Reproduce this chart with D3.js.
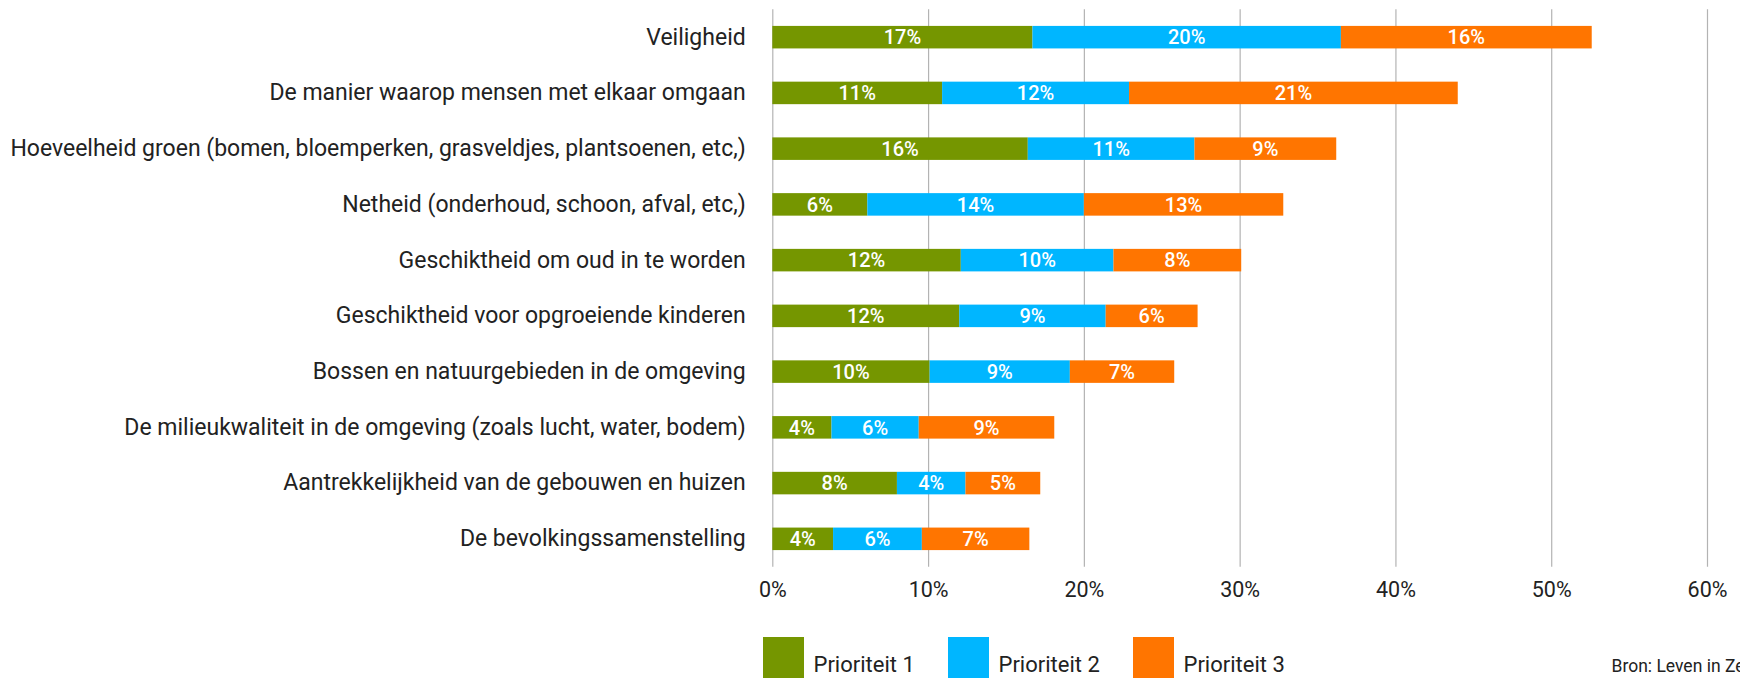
<!DOCTYPE html>
<html><head><meta charset="utf-8">
<script src="https://cdn.jsdelivr.net/npm/d3@7"></script>
<style>
body{margin:0;background:#fff}
svg text{font-family:Roboto,"DejaVu Sans Condensed",sans-serif}
</style>
</head><body>
<svg id="chart" width="1740" height="678"></svg>
<script>
// Woonomgeving: wat vinden inwoners het belangrijkst (aandeel per prioriteit)
const categories = [
  "Veiligheid",
  "De manier waarop mensen met elkaar omgaan",
  "Hoeveelheid groen (bomen, bloemperken, grasveldjes, plantsoenen, etc,)",
  "Netheid (onderhoud, schoon, afval, etc,)",
  "Geschiktheid om oud in te worden",
  "Geschiktheid voor opgroeiende kinderen",
  "Bossen en natuurgebieden in de omgeving",
  "De milieukwaliteit in de omgeving (zoals lucht, water, bodem)",
  "Aantrekkelijkheid van de gebouwen en huizen",
  "De bevolkingssamenstelling"
];
const prioriteit1 = [0.167, 0.109, 0.164, 0.061, 0.121, 0.120, 0.101, 0.038, 0.080, 0.039];
const prioriteit2 = [0.198, 0.120, 0.107, 0.139, 0.098, 0.094, 0.090, 0.056, 0.044, 0.057];
const prioriteit3 = [0.161, 0.211, 0.091, 0.128, 0.082, 0.059, 0.067, 0.087, 0.048, 0.069];
const seriesNames = ["Prioriteit 1", "Prioriteit 2", "Prioriteit 3"];
const seriesColors = ["#759600", "#00b6ff", "#ff7500"];
const tickValues = [0, 0.1, 0.2, 0.3, 0.4, 0.5, 0.6];
const bron = "Bron: Leven in Zeeland";

const svg = d3.select("#chart");
const plot = {left: 772.3, right: 1707, top: 9.3, bottom: 566.7};

const x = d3.scaleLinear().domain([0, 0.6]).range([plot.left, plot.right]);
const y = d3.scaleBand().domain(categories).range([plot.top, plot.bottom])
  .paddingInner(0.596).paddingOuter(0.298);

const rows = categories.map((c, i) => ({cat: c, p1: prioriteit1[i], p2: prioriteit2[i], p3: prioriteit3[i]}));
const stack = d3.stack().keys(["p1", "p2", "p3"])(rows);

// Verticale rasterlijnen en asteksten
const xAxis = svg.append("g")
  .attr("transform", `translate(0,${plot.bottom})`)
  .call(d3.axisBottom(x).tickValues(tickValues).tickFormat(d3.format(".0%"))
    .tickSizeInner(-(plot.bottom - plot.top)).tickSizeOuter(0).tickPadding(15));
xAxis.select(".domain").remove();
xAxis.selectAll(".tick line").attr("stroke", "#b3b3b3").attr("stroke-width", 1.2);
xAxis.selectAll(".tick text").attr("fill", "#222").style("font-size", "21.5px");

// Categorieën
const yAxis = svg.append("g")
  .attr("transform", `translate(${plot.left},0)`)
  .call(d3.axisLeft(y).tickSize(0).tickPadding(26.6));
yAxis.select(".domain").remove();
yAxis.selectAll(".tick text").attr("fill", "#222").style("font-size", "23px");

// Gestapelde balken
const layers = svg.append("g").selectAll("g").data(stack).join("g")
  .attr("fill", (d, i) => seriesColors[i]);
layers.selectAll("rect").data(d => d).join("rect")
  .attr("x", d => x(d[0]))
  .attr("width", d => x(d[1]) - x(d[0]))
  .attr("y", d => y(d.data.cat))
  .attr("height", y.bandwidth());

// Waardelabels in de balken
const fmt = d3.format(".0%");
svg.append("g").selectAll("g").data(stack).join("g")
  .selectAll("text").data(d => d).join("text")
  .attr("x", d => (x(d[0]) + x(d[1])) / 2)
  .attr("y", d => y(d.data.cat) + y.bandwidth() / 2)
  .attr("dy", "0.36em")
  .attr("text-anchor", "middle")
  .attr("fill", "#fff")
  .style("font-size", "20px")
  .style("font-weight", 500)
  .text(d => fmt(d[1] - d[0]));

// Legenda
const legend = svg.append("g").selectAll("g").data(seriesNames).join("g")
  .attr("transform", (d, i) => `translate(${763 + i * 185},637)`);
legend.append("rect").attr("width", 41).attr("height", 41).attr("fill", (d, i) => seriesColors[i]);
legend.append("text").attr("x", 50.5).attr("y", 35).attr("fill", "#222")
  .style("font-size", "22px").text(d => d);

// Bronvermelding
svg.append("text").attr("x", 1611.5).attr("y", 671.7).attr("fill", "#222")
  .style("font-size", "17.5px").text(bron);
</script>
</body></html>
